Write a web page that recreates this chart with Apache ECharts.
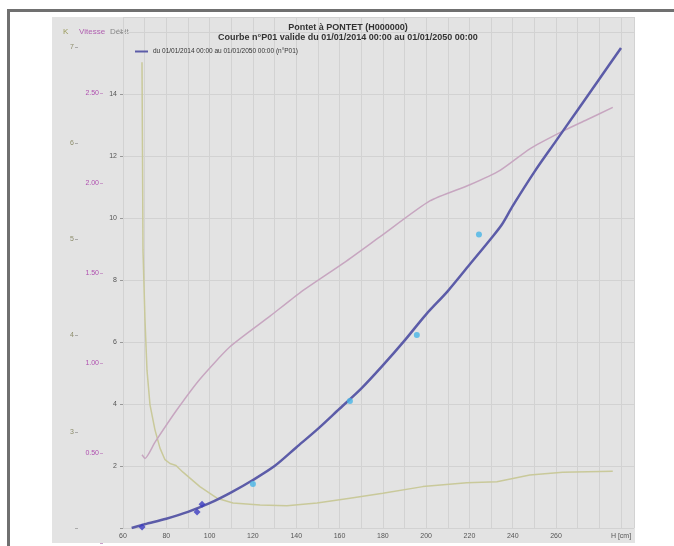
<!DOCTYPE html>
<html><head><meta charset="utf-8">
<script src="https://cdn.jsdelivr.net/npm/echarts@6/dist/echarts.min.js"></script>
<style>
html,body{margin:0;padding:0;background:#fff;}
#wrap{position:relative;width:674px;height:546px;overflow:hidden;background:#fff;}
#panel{position:absolute;left:52px;top:17px;width:583px;height:526px;background:#e3e3e3;}
#frameTop{position:absolute;left:7px;top:9px;width:667px;height:3px;background:#707070;}
#frameLeft{position:absolute;left:7px;top:9px;width:3px;height:537px;background:#707070;}
#chart{position:absolute;left:0;top:0;width:674px;height:546px;}
</style></head>
<body>
<div id="wrap"><div id="panel"></div><div id="frameTop"></div><div id="frameLeft"></div><div id="chart"></div></div>
<script>
// ---- data ----
const titleMain = 'Pontet à PONTET (H000000)';
const titleSub = 'Courbe n°P01 valide du 01/01/2014 00:00 au 01/01/2050 00:00';
const courbeName = 'du 01/01/2014 00:00 au 01/01/2050 00:00 (n°P01)';
const axisNames = ['K', 'Vitesse', 'Débit'];
const xAxisTitle = 'H [cm]';

const courbeH = [64, 70, 80, 90, 100, 110, 120, 130, 140, 150, 160, 170, 180, 190, 200, 210, 220, 230, 235, 240, 250, 260, 270, 280, 290];
const courbeQ = [0.0, 0.12, 0.3, 0.52, 0.8, 1.15, 1.55, 2.0, 2.6, 3.2, 3.85, 4.5, 5.25, 6.05, 6.9, 7.65, 8.5, 9.35, 9.8, 10.4, 11.5, 12.5, 13.5, 14.5, 15.5];

const jaugeH = [120, 164.8, 195.7, 224.4];
const jaugeQ = [1.42, 4.1, 6.23, 9.48];

const jaugeAncH = [68.8, 94.2, 96.5];
const jaugeAncQ = [0.03, 0.52, 0.77];

const vitH = [68.8, 70.2, 74.8, 84.9, 95.5, 109.4, 127.9, 141.7, 162.5, 178.6, 201.7, 220.2, 234.1, 247.9, 261.8, 274, 286.2];
const vitV = [0.49, 0.47, 0.56, 0.74, 0.91, 1.09, 1.26, 1.39, 1.56, 1.70, 1.90, 1.99, 2.07, 2.19, 2.28, 2.35, 2.42];

const kH = [68.77, 69.0, 69.23, 70.16, 71.08, 72.47, 74.77, 77.08, 79.39, 81.7, 84.47, 87.7, 95.5, 103.4, 110.8, 123.3, 135.7, 149.6, 164.8, 180, 198.5, 218.8, 232.7, 247.9, 263.1, 286.2];
const kV = [6.84, 5.93, 4.89, 4.16, 3.64, 3.28, 3.02, 2.83, 2.71, 2.67, 2.65, 2.58, 2.43, 2.31, 2.26, 2.24, 2.23, 2.26, 2.31, 2.36, 2.43, 2.47, 2.48, 2.55, 2.58, 2.59];

// ---- chart ----
const zip = (a, b) => a.map((v, i) => [v, b[i]]);
const FONT = 'Liberation Sans';
const chart = echarts.init(document.getElementById('chart'), null, {renderer: 'canvas'});
const gridLine = {show: true, lineStyle: {color: '#d2d2d2', width: 1}};

chart.setOption({
  backgroundColor: 'transparent',
  animation: false,
  textStyle: {fontFamily: FONT},
  title: [
    {text: titleMain, left: 343, top: 18, textAlign: 'center',
     textStyle: {fontSize: 9, fontWeight: 'bold', color: '#333', fontFamily: FONT}},
    {text: titleSub, left: 343, top: 28, textAlign: 'center',
     textStyle: {fontSize: 9, fontWeight: 'bold', color: '#333', fontFamily: FONT}}
  ],
  legend: {
    left: 130, top: 43, itemWidth: 13, itemHeight: 2, icon: 'rect', itemGap: 4,
    data: [courbeName],
    textStyle: {fontSize: 6.5, color: '#333', fontFamily: FONT}
  },
  graphic: [
    {type: 'text', left: 63, top: 28, style: {text: axisNames[0], fontSize: 8, fill: '#9a9a5a', fontFamily: FONT}},
    {type: 'text', left: 79, top: 28, style: {text: axisNames[1], fontSize: 8, fill: '#b060b0', fontFamily: FONT}},
    {type: 'text', left: 110, top: 28, style: {text: axisNames[2], fontSize: 8, fill: '#888', fontFamily: FONT}}
  ],
  grid: [
    {left: 123, width: 511, top: 17, bottom: 18, containLabel: false},
    {left: 123, width: 511, top: 17, bottom: 3, containLabel: false}
  ],
  xAxis: [
    {gridIndex: 0, type: 'value', min: 60, max: 296, interval: 10,
     axisLine: {show: false}, axisTick: {show: false}, splitLine: gridLine,
     axisLabel: {fontSize: 7, color: '#555', margin: 5, showMaxLabel: false,
       formatter: v => (v === 290 ? xAxisTitle : (v % 20 === 0 && v <= 260 ? String(v) : ''))}},
    {gridIndex: 1, type: 'value', min: 60, max: 296, show: false}
  ],
  yAxis: [
    {gridIndex: 0, type: 'value', min: 0, max: 16.5, interval: 2, position: 'left',
     axisLine: {show: false}, axisTick: {show: true, length: 3, lineStyle: {color: '#999'}},
     splitLine: gridLine,
     axisLabel: {fontSize: 7, color: '#555', margin: 6, showMaxLabel: false,
       formatter: v => (v > 0 && v <= 14 ? String(v) : '')}},
    {gridIndex: 0, type: 'value', min: 2, max: 7.31, interval: 1, position: 'left', offset: 45,
     axisLine: {show: false}, axisTick: {show: true, length: 3, lineStyle: {color: '#aaa'}},
     splitLine: {show: false},
     axisLabel: {fontSize: 7, color: '#8c8c6a', margin: 4, showMaxLabel: false,
       formatter: v => (v >= 3 && v <= 7 ? String(v) : '')}},
    {gridIndex: 1, type: 'value', min: 0, max: 2.922, interval: 0.5, position: 'left', offset: 20,
     axisLine: {show: false}, axisTick: {show: true, length: 3, lineStyle: {color: '#c9a0c9'}},
     splitLine: {show: false},
     axisLabel: {fontSize: 7, color: '#b050b0', margin: 4, showMaxLabel: false,
       formatter: v => (v >= 0.5 && v <= 2.5 ? v.toFixed(2) : '')}}
  ],
  series: [
    {name: 'K', type: 'line', xAxisIndex: 0, yAxisIndex: 1, data: zip(kH, kV),
     symbol: 'none', smooth: false, lineStyle: {color: '#c9c99a', width: 1.5}, z: 2},
    {name: 'Vitesse', type: 'line', xAxisIndex: 1, yAxisIndex: 2, data: zip(vitH, vitV),
     symbol: 'none', smooth: 0.2, lineStyle: {color: '#c7a6c0', width: 1.5}, z: 2},
    {name: courbeName, type: 'line', xAxisIndex: 0, yAxisIndex: 0, data: zip(courbeH, courbeQ),
     symbol: 'none', smooth: 0.3, itemStyle: {color: '#5c5ca8'}, lineStyle: {color: '#5c5ca8', width: 2.5}, z: 3},
    {name: 'Jaugeages', type: 'scatter', xAxisIndex: 0, yAxisIndex: 0, data: zip(jaugeH, jaugeQ),
     symbol: 'circle', symbolSize: 6, itemStyle: {color: '#47b4e6'}, z: 4},
    {name: 'Anciens', type: 'scatter', xAxisIndex: 0, yAxisIndex: 0, data: zip(jaugeAncH, jaugeAncQ),
     symbol: 'diamond', symbolSize: 7, itemStyle: {color: '#3b3bc0'}, z: 4}
  ]
});
</script>
</body></html>
